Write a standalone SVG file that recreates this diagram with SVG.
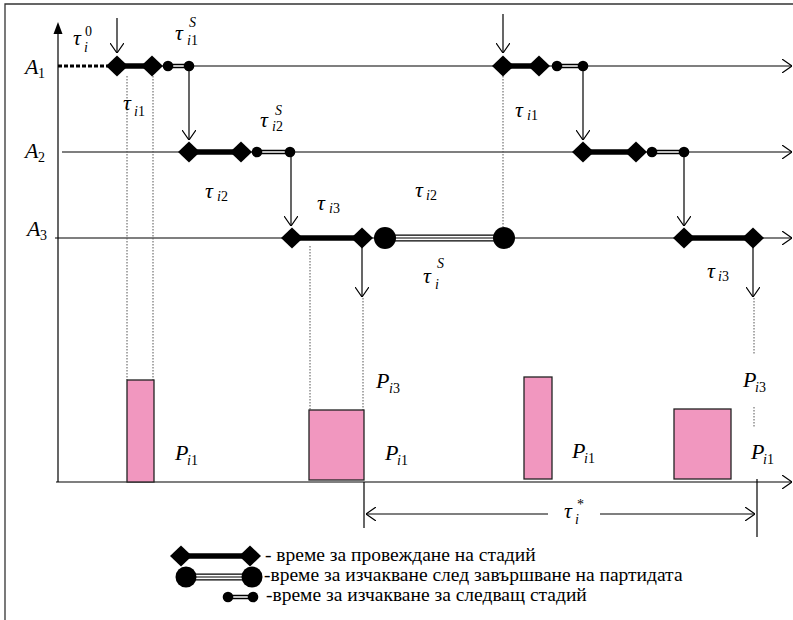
<svg xmlns="http://www.w3.org/2000/svg" xmlns:xlink="http://www.w3.org/1999/xlink" width="793" height="620" viewBox="0 0 793 620">
<style>
.frame{stroke:#333;stroke-width:1.3;fill:none}
.ln{stroke:#000;stroke-width:1.2;fill:none}
.arr{stroke:#000;stroke-width:1.2;fill:none;marker-end:url(#open)}
.dot{stroke:#555;stroke-width:1;stroke-dasharray:1.5 1.5;fill:none}
.thick{stroke:#000;stroke-width:5.5}
.dblB{stroke:#000;stroke-width:4.5}
.dblW{stroke:#fff;stroke-width:1.5}
.triB{stroke:#000;stroke-width:7}
.triW{stroke:#fff;stroke-width:4.6}
.triC{stroke:#000;stroke-width:1.1}
.bar{fill:#F197BF;stroke:#222;stroke-width:1.3}
</style>
<defs>
<marker id="open" viewBox="0 0 10 14" refX="10" refY="7" markerWidth="10" markerHeight="14" orient="auto-start-reverse" markerUnits="userSpaceOnUse">
<path d="M0,0 L10,7 L0,14" fill="none" stroke="#000" stroke-width="1.2"/>
</marker>
<path id="dia" d="M-11,0 L0,-10.5 L11,0 L0,10.5Z" fill="#000"/>
</defs>
<rect width="793" height="620" fill="#fff"/>
<g id="frame">
<path class="frame" d="M5,620 V4 H793"/>
</g>
<g id="axes">
<line class="ln" x1="58" y1="482" x2="58" y2="32"/>
<path d="M58,22 L53.5,34 L62.5,34Z" fill="#000"/>
<line class="arr" x1="56" y1="482" x2="792" y2="482"/>
<line x1="58" y1="66" x2="108" y2="66" stroke="#000" stroke-width="3" stroke-dasharray="4 2"/>
<line class="arr" x1="108" y1="66" x2="792" y2="66"/>
<line class="arr" x1="62" y1="152" x2="792" y2="152"/>
<line class="arr" x1="55" y1="238" x2="792" y2="238"/>
</g>
<g id="dotted">
<line class="dot" x1="127" y1="76" x2="127" y2="380"/>
<line class="dot" x1="153" y1="76" x2="153" y2="380"/>
<line class="dot" x1="310" y1="246" x2="310" y2="410"/>
<line class="dot" x1="363" y1="298" x2="363" y2="410"/>
<line class="dot" x1="503" y1="76" x2="503" y2="227"/>
<line class="dot" x1="754" y1="298" x2="754" y2="355"/>
<line class="dot" x1="754" y1="407" x2="754" y2="428"/>
</g>
<g id="connectors">
<line class="arr" x1="117" y1="18" x2="117" y2="53"/>
<line class="arr" x1="189" y1="66" x2="189" y2="140"/>
<line class="arr" x1="291" y1="152" x2="291" y2="226"/>
<line class="arr" x1="362" y1="238" x2="362" y2="297"/>
<line class="arr" x1="503" y1="14" x2="503" y2="53"/>
<line class="arr" x1="583" y1="66" x2="583" y2="140"/>
<line class="arr" x1="684" y1="152" x2="684" y2="226"/>
<line class="arr" x1="753" y1="238" x2="753" y2="297"/>
</g>
<g id="stage-A1-1">
<line class="thick" x1="117" y1="66" x2="152" y2="66"/>
<use xlink:href="#dia" x="117" y="66"/><use xlink:href="#dia" x="152" y="66"/>
<line class="dblB" x1="168" y1="66" x2="189" y2="66"/><line class="dblW" x1="168" y1="66" x2="189" y2="66"/>
<circle cx="168" cy="66" r="5.3"/><circle cx="189" cy="66" r="5.3"/>
</g>
<g id="stage-A2-1">
<line class="thick" x1="189" y1="152" x2="241" y2="152"/>
<use xlink:href="#dia" x="189" y="152"/><use xlink:href="#dia" x="241" y="152"/>
<line class="dblB" x1="257" y1="152" x2="290" y2="152"/><line class="dblW" x1="257" y1="152" x2="290" y2="152"/>
<circle cx="257" cy="152" r="5.3"/><circle cx="290" cy="152" r="5.3"/>
</g>
<g id="stage-A3-1">
<line class="thick" x1="292" y1="238" x2="362" y2="238"/>
<use xlink:href="#dia" x="292" y="238"/><use xlink:href="#dia" x="362" y="238"/>
<line class="triB" x1="385" y1="238" x2="504" y2="238"/><line class="triW" x1="385" y1="238" x2="504" y2="238"/><line class="triC" x1="385" y1="238" x2="504" y2="238"/>
<circle cx="385" cy="238" r="11"/><circle cx="504" cy="238" r="11"/>
</g>
<g id="stage-A1-2">
<line class="thick" x1="503" y1="66" x2="539" y2="66"/>
<use xlink:href="#dia" x="503" y="66"/><use xlink:href="#dia" x="539" y="66"/>
<line class="dblB" x1="557" y1="66" x2="583" y2="66"/><line class="dblW" x1="557" y1="66" x2="583" y2="66"/>
<circle cx="557" cy="66" r="5.3"/><circle cx="583" cy="66" r="5.3"/>
</g>
<g id="stage-A2-2">
<line class="thick" x1="583" y1="152" x2="636" y2="152"/>
<use xlink:href="#dia" x="583" y="152"/><use xlink:href="#dia" x="636" y="152"/>
<line class="dblB" x1="652" y1="152" x2="684" y2="152"/><line class="dblW" x1="652" y1="152" x2="684" y2="152"/>
<circle cx="652" cy="152" r="5.3"/><circle cx="684" cy="152" r="5.3"/>
</g>
<g id="stage-A3-2">
<line class="thick" x1="684" y1="238" x2="753" y2="238"/>
<use xlink:href="#dia" x="684" y="238"/><use xlink:href="#dia" x="753" y="238"/>
</g>
<g id="bars">
<rect class="bar" x="127" y="380" width="27" height="102"/>
<rect class="bar" x="309" y="410" width="55" height="70"/>
<rect class="bar" x="524" y="377" width="28" height="102"/>
<rect class="bar" x="674" y="409" width="57" height="70"/>
</g>
<g id="tau-star">
<line class="ln" x1="364" y1="482" x2="364" y2="528"/>
<line class="ln" x1="757" y1="479" x2="757" y2="537"/>
<line class="ln" x1="366" y1="514" x2="548" y2="514" style="marker-start:url(#open)"/>
<line class="arr" x1="600" y1="514" x2="755" y2="514"/>
<text font-family="Liberation Serif" font-style="italic" font-size="22" x="564" y="518">τ<tspan font-style="normal" font-size="14" x="577" y="509">*</tspan><tspan font-size="14" x="575" y="524">i</tspan></text>
</g>
<g id="labels">
<text font-family="Liberation Serif" font-style="italic" font-size="22" x="25" y="74">A<tspan font-style="normal" font-size="14" x="38" y="78">1</tspan></text>
<text font-family="Liberation Serif" font-style="italic" font-size="22" x="25" y="158">A<tspan font-style="normal" font-size="14" x="38" y="162">2</tspan></text>
<text font-family="Liberation Serif" font-style="italic" font-size="22" x="27" y="236">A<tspan font-style="normal" font-size="14" x="40" y="240">3</tspan></text>
<text font-family="Liberation Serif" font-style="italic" font-size="22" x="73" y="45">τ<tspan font-style="normal" font-size="14" x="85" y="36">0</tspan><tspan font-size="14" x="84" y="52">i</tspan></text>
<text font-family="Liberation Serif" font-style="italic" font-size="22" x="175" y="40">τ<tspan font-size="14" x="189" y="27">S</tspan><tspan font-size="14" x="187" y="45">i</tspan><tspan font-style="normal" font-size="14">1</tspan></text>
<text font-family="Liberation Serif" font-style="italic" font-size="22" x="123" y="110">τ<tspan font-size="14" x="134" y="116">i</tspan><tspan font-style="normal" font-size="14">1</tspan></text>
<text font-family="Liberation Serif" font-style="italic" font-size="22" x="260" y="127">τ<tspan font-size="14" x="275" y="115">S</tspan><tspan font-size="14" x="272" y="131">i</tspan><tspan font-style="normal" font-size="14">2</tspan></text>
<text font-family="Liberation Serif" font-style="italic" font-size="22" x="205" y="198">τ<tspan font-size="14" x="217" y="201">i</tspan><tspan font-style="normal" font-size="14">2</tspan></text>
<text font-family="Liberation Serif" font-style="italic" font-size="22" x="317" y="210">τ<tspan font-size="14" x="329" y="213">i</tspan><tspan font-style="normal" font-size="14">3</tspan></text>
<text font-family="Liberation Serif" font-style="italic" font-size="22" x="415" y="197">τ<tspan font-size="14" x="426" y="200">i</tspan><tspan font-style="normal" font-size="14">2</tspan></text>
<text font-family="Liberation Serif" font-style="italic" font-size="22" x="423" y="283">τ<tspan font-size="14" x="437" y="268">S</tspan><tspan font-size="14" x="435" y="289">i</tspan></text>
<text font-family="Liberation Serif" font-style="italic" font-size="22" x="515" y="117">τ<tspan font-size="14" x="527" y="120">i</tspan><tspan font-style="normal" font-size="14">1</tspan></text>
<text font-family="Liberation Serif" font-style="italic" font-size="22" x="707" y="278">τ<tspan font-size="14" x="718" y="281">i</tspan><tspan font-style="normal" font-size="14">3</tspan></text>
<text font-family="Liberation Serif" font-style="italic" font-size="22" x="376" y="388">P<tspan font-size="14" x="389" y="393">i</tspan><tspan font-style="normal" font-size="14">3</tspan></text>
<text font-family="Liberation Serif" font-style="italic" font-size="22" x="175" y="460">P<tspan font-size="14" x="187" y="465">i</tspan><tspan font-style="normal" font-size="14">1</tspan></text>
<text font-family="Liberation Serif" font-style="italic" font-size="22" x="385" y="460">P<tspan font-size="14" x="397" y="465">i</tspan><tspan font-style="normal" font-size="14">1</tspan></text>
<text font-family="Liberation Serif" font-style="italic" font-size="22" x="572" y="458">P<tspan font-size="14" x="584" y="463">i</tspan><tspan font-style="normal" font-size="14">1</tspan></text>
<text font-family="Liberation Serif" font-style="italic" font-size="22" x="743" y="387">P<tspan font-size="14" x="755" y="392">i</tspan><tspan font-style="normal" font-size="14">3</tspan></text>
<text font-family="Liberation Serif" font-style="italic" font-size="22" x="751" y="459">P<tspan font-size="14" x="763" y="464">i</tspan><tspan font-style="normal" font-size="14">1</tspan></text>
</g>
<g id="legend">
<g id="legend-stage">
<line class="thick" x1="181" y1="556" x2="250" y2="556"/>
<use xlink:href="#dia" x="181" y="556"/><use xlink:href="#dia" x="250" y="556"/>
<text font-family="Liberation Serif" font-size="19.5" x="265" y="561">- време за провеждане на  стадий</text>
</g>
<g id="legend-wait-batch">
<line class="triB" x1="186" y1="577" x2="252" y2="577"/><line class="triW" x1="186" y1="577" x2="252" y2="577"/><line class="triC" x1="186" y1="577" x2="252" y2="577"/>
<circle cx="186" cy="577" r="10.5"/><circle cx="252" cy="577" r="10.5"/>
<text font-family="Liberation Serif" font-size="19.5" x="264" y="581">-време за изчакване след завършване на партидата</text>
</g>
<g id="legend-wait-stage">
<line class="dblB" x1="228" y1="597" x2="253" y2="597"/><line class="dblW" x1="228" y1="597" x2="253" y2="597"/>
<circle cx="228" cy="597" r="5.3"/><circle cx="253" cy="597" r="5.3"/>
<text font-family="Liberation Serif" font-size="19.5" x="266" y="601">-време за изчакване за следващ стадий</text>
</g>
</g>
</svg>
